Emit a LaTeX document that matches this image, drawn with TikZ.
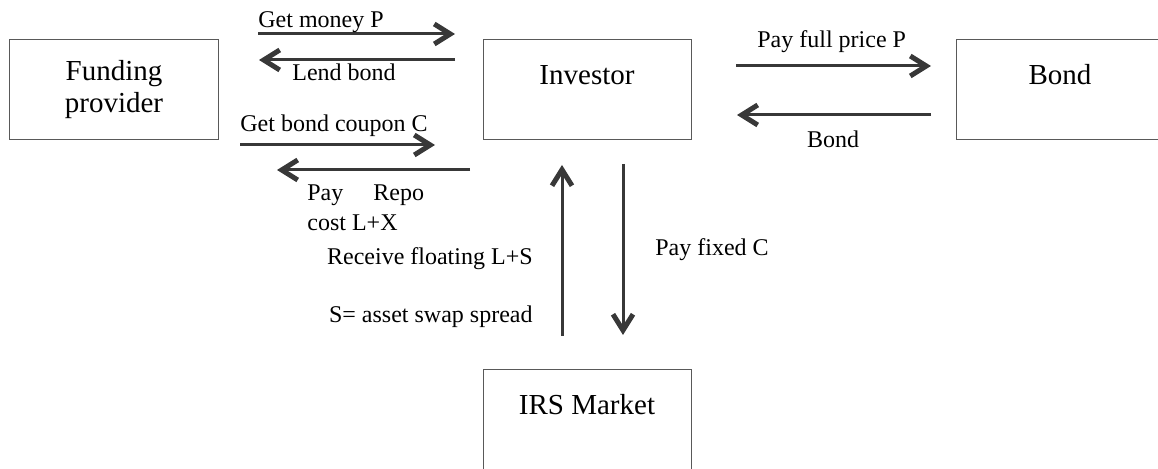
\documentclass[tikz,border=0pt]{standalone}
\usepackage{fontspec}
\setmainfont{Liberation Serif}
\usepackage{tikz}
\usetikzlibrary{arrows.meta, positioning}
\tikzstyle{block} = [rectangle, draw=black!65, line width=0.5pt, minimum width=104pt, minimum height=50pt, inner sep=0pt, font=\fontsize{14.5}{16}\selectfont]
\tikzstyle{oneline} = [block, text height=10pt, text depth=15pt]
\tikzstyle{line} = [draw, black!78, line width=1.5pt, -{Straight Barb[length=8pt,width=10pt,line width=2.5pt]}]
\tikzstyle{tag} = [inner sep=0pt, font=\fontsize{12}{15}\selectfont]

\begin{document}
\begin{tikzpicture}[node distance = 236.5pt]
        \useasboundingbox (-57pt,45pt) rectangle (522pt,-189.5pt);
        % Boxes
        \node [block, align=center] (funding) {Funding\\provider};
        \node [oneline, right of=funding] (investor) {Investor};
        \node [oneline, right of=investor] (bond) {Bond};
        \node [oneline, below of=investor, node distance=165pt] (irs) {IRS Market};

        % Arrow ends
        \coordinate (money1) at (72pt,28pt);
        \coordinate (money2) at (170.5pt,28pt);
        \coordinate (lend1) at (170.5pt,15pt);
        \coordinate (lend2) at (72.5pt,15pt);
        \coordinate (coupon1) at (63pt,-27.5pt);
        \coordinate (coupon2) at (160.5pt,-27.5pt);
        \coordinate (repo1) at (178pt,-40pt);
        \coordinate (repo2) at (81.5pt,-40pt);
        \coordinate (price1) at (311pt,12pt);
        \coordinate (price2) at (408.5pt,12pt);
        \coordinate (back1) at (408.5pt,-12.5pt);
        \coordinate (back2) at (311.5pt,-12.5pt);
        \coordinate (float1) at (224pt,-123pt);
        \coordinate (float2) at (224pt,-37.5pt);
        \coordinate (fixed1) at (254.5pt,-37pt);
        \coordinate (fixed2) at (254.5pt,-122.5pt);

        % Lines
        \path [line] (money1) -- (money2);
        \path [line] (lend1) -- (lend2);
        \path [line] (coupon1) -- (coupon2);
        \path [line] (repo1) -- (repo2);
        \path [line] (price1) -- (price2);
        \path [line] (back1) -- (back2);
        \path [line] (float1) -- (float2);
        \path [line] (fixed1) -- (fixed2);

        % Labels
        \node [tag, anchor=base west] (getmoney) at (72pt,31pt) {Get money P};
        \node [tag, anchor=base west] (lendbond) at (89pt,4.5pt) {Lend bond};
        \node [tag, anchor=base west] (getcoupon) at (63pt,-21pt) {Get bond coupon C};
        \node [tag, anchor=base west, align=left] (payrepo) at (96.5pt,-70.5pt) {Pay\hspace{15pt}Repo\\cost L+X};
        \node [tag, anchor=base west] (payprice) at (321.5pt,21pt) {Pay full price P};
        \node [tag, anchor=base] (getbond) at (359.5pt,-29pt) {Bond};
        \node [tag, anchor=base east] (receive) at (209.5pt,-87.5pt) {Receive floating L+S};
        \node [tag, anchor=base east] (spread) at (209.5pt,-116.5pt) {S= asset swap spread};
        \node [tag, anchor=base west] (payfixed) at (270.5pt,-83pt) {Pay fixed C};
    \end{tikzpicture}
\end{document}
